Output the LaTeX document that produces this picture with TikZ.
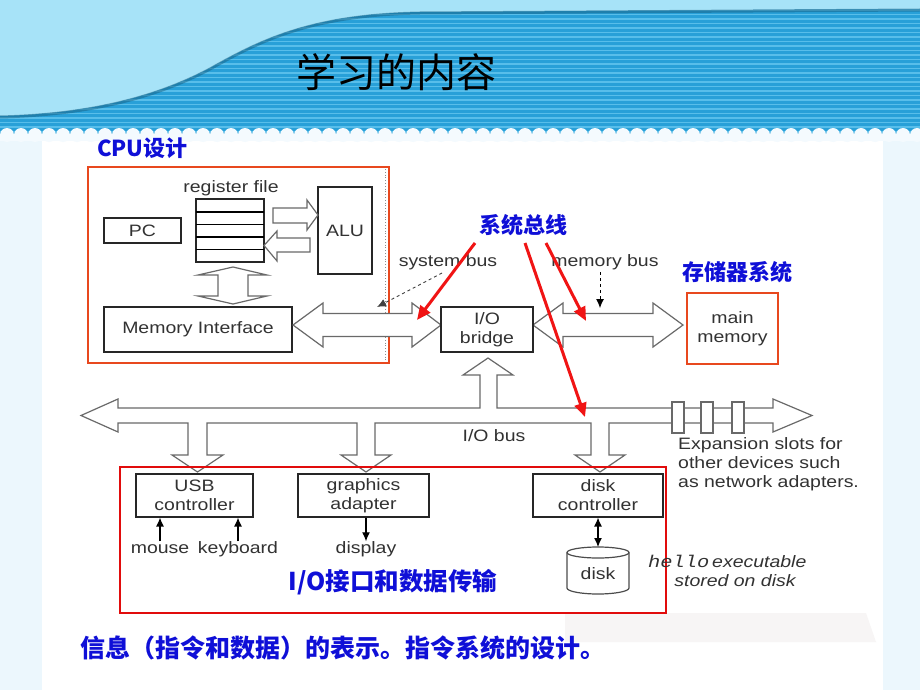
\documentclass[tikz,border=0pt]{standalone}
\usepackage{fontspec}
\setmainfont{Liberation Sans}
\newfontfamily\dg[FakeStretch=1.18]{Liberation Sans}
\newfontfamily\dgmono[FakeStretch=1.2]{Liberation Mono}
\newfontfamily\cjk{Noto Sans CJK SC}
\usetikzlibrary{arrows.meta}
\definecolor{bannerlight}{RGB}{167,227,248}
\definecolor{stripeA}{RGB}{40,160,216}
\definecolor{stripeB}{RGB}{88,190,234}
\definecolor{pale}{RGB}{236,247,253}
\definecolor{kblue}{RGB}{15,15,215}
\definecolor{ored}{RGB}{232,72,30}
\definecolor{pred}{RGB}{225,12,12}
\definecolor{arrred}{RGB}{240,20,20}
\definecolor{txt}{RGB}{50,50,50}
\definecolor{busgray}{RGB}{105,105,105}
\definecolor{shadowc}{RGB}{247,245,245}
\begin{document}
\begin{tikzpicture}[x=1pt,y=-1pt,
  box/.style={draw=black!85, line width=1.1pt, fill=white, inner sep=0pt,
    font=\dg\fontsize{16.5}{19}\selectfont, text=txt, align=center},
  redbox/.style={draw=ored, line width=2.5pt, inner sep=0pt},
  bus/.style={draw=busgray, line width=1.2pt, fill=white, line join=miter},
  lab/.style={inner sep=0pt, font=\dg\fontsize{16.5}{19}\selectfont, text=txt,
    text height=11.5, text depth=3.5},
  cjklab/.style={inner sep=0pt, font=\cjk\bfseries\fontsize{22}{24}\selectfont, text=kblue},
  smallarr/.style={line width=1.2pt, draw=black, -{Latex[length=9pt,width=8pt]}},
  redarr/.style={draw=arrred, line width=3pt, -{Triangle[length=14pt,width=12pt]}},
  ptr/.style={dashed, line width=0.9pt, draw=black!75, -{Latex[length=9pt,width=8pt]}}
]
\useasboundingbox (0,0) rectangle (920,690);
% ---------- background ----------
\fill[pale] (0,0) rectangle (920,690);
\fill[white] (42,141) rectangle (883,690);
\fill[shadowc] (565,613) -- (866,613) -- (876,642) -- (565,642) -- cycle;
% banner
\fill[bannerlight] (0,0) rectangle (920,135);
\fill[stripeA] (0,116) .. controls (80,114) and (150,100) .. (210,68)
   .. controls (260,40) and (310,14) .. (420,12) -- (920,9) -- (920,135) -- (0,135) -- cycle;
\begin{scope}
\clip (0,116) .. controls (80,114) and (150,100) .. (210,68)
   .. controls (260,40) and (310,14) .. (420,12) -- (920,9) -- (920,135) -- (0,135) -- cycle;
\foreach \y in {10,14.5,...,135} \draw[stripeB, line width=1.7pt] (0,\y) -- (920,\y);
\end{scope}
\draw[stripeA!55!black, line width=3pt, opacity=0.45] (0,117) .. controls (80,115) and (150,101) .. (210,69)
   .. controls (260,41) and (310,15) .. (420,13) -- (920,10);
\foreach \i in {0,...,66} \fill[pale!60!white] (\i*14+7,135) circle (7);
\fill[pale!60!white] (0,135) rectangle (920,141);
% ---------- title ----------
\node[font=\cjk\fontsize{40}{44}\selectfont, text=black, inner sep=0pt] (title) at (396,72) {学习的内容};
% ---------- CPU ----------
\node[cjklab, anchor=west] (cpulab) at (97,148.5) {CPU设计};
\node[redbox, minimum width=301, minimum height=196] (cpu) at (238.5,265) {};
\draw[black!45, dotted, line width=0.8pt] (385.5,169) -- (385.5,361);
\node[lab] (rflab) at (231,188) {register file};
\node[box, line width=1.5pt, minimum width=68, minimum height=63] (rf) at (230,230.5) {};
\foreach \y in {212,224.5,237,249.5} \draw[black, line width=1.6pt] (196,\y) -- (264,\y);
\node[box, minimum width=77, minimum height=25] (pc) at (142.5,230.5) {PC};
\node[box, minimum width=54, minimum height=87] (alu) at (345,230.5) {ALU};
\node[box, minimum width=188, minimum height=45] (mi) at (198,329.5) {Memory Interface};
\draw[bus] (273,208) -- (307,208) -- (307,200) -- (318,215) -- (307,230) -- (307,223) -- (273,223) -- cycle;
\draw[bus] (310,238) -- (277,238) -- (277,231) -- (264,245.5) -- (277,261) -- (277,252) -- (310,252) -- cycle;
\draw[bus] (233,267) -- (267,275) -- (248,275) -- (248,296) -- (267,296) -- (233,304)
   -- (198,296) -- (218,296) -- (218,275) -- (198,275) -- cycle;
% ---------- system / memory bus ----------
\draw[bus] (293,325) -- (323,303) -- (323,313.5) -- (412,313.5) -- (412,303) -- (441,325)
   -- (412,347) -- (412,336.5) -- (323,336.5) -- (323,347) -- cycle;
\draw[bus] (533,325) -- (563,303) -- (563,313.5) -- (653,313.5) -- (653,303) -- (683,325)
   -- (653,347) -- (653,336.5) -- (563,336.5) -- (563,347) -- cycle;
\node[box, minimum width=92, minimum height=45] (bridge) at (487,329.5) {I/O\\bridge};
\node[box, draw=ored, line width=2.5pt, minimum width=91, minimum height=71] (mem) at (732.5,328.5) {main\\memory};
\node[cjklab] (memlab) at (737,272) {存储器系统};
\node[lab] (sbl) at (448,262) {system bus};
\node[lab] (mbl) at (605,262) {memory bus};
\coordinate (sbs) at (442,273);
\coordinate (sbp) at (377,307);
\draw[ptr] (sbs) -- (sbp);
\coordinate (mbs) at (600,272);
\coordinate (mbp) at (600,308);
\draw[ptr, draw=black] (mbs) -- (mbp);
% ---------- I/O bus ----------
\draw[bus] (81,415.5) -- (118,399) -- (118,408) -- (480,408) -- (480,375) -- (463,375) -- (488,358)
  -- (513,375) -- (497,375) -- (497,408) -- (773,408) -- (773,399) -- (812,415.5) -- (773,432)
  -- (773,423) -- (609,423) -- (609,455) -- (625,455) -- (600,472) -- (575,455) -- (591,455)
  -- (591,423) -- (375,423) -- (375,455) -- (391,455) -- (366,472) -- (341,455) -- (357,455)
  -- (357,423) -- (207,423) -- (207,455) -- (223,455) -- (197.5,472) -- (172,455) -- (188,455)
  -- (188,423) -- (118,423) -- (118,432) -- cycle;
\foreach \x in {672,701,732} \draw[bus] (\x,402) rectangle ++(12,31);
\node[lab] (iobl) at (494,437) {I/O bus};
\node[lab, anchor=west] (exp1) at (678,445) {Expansion slots for};
\node[lab, anchor=west] (exp2) at (678,464) {other devices such};
\node[lab, anchor=west] (exp3) at (678,483) {as network adapters.};
% ---------- I/O devices ----------
\node[draw=pred, line width=2.5pt, inner sep=0pt, minimum width=546, minimum height=146] (iobox) at (393,540) {};
\node[box, minimum width=117, minimum height=43] (usb) at (194.5,495.5) {USB\\controller};
\node[box, minimum width=131, minimum height=43] (gfx) at (363.5,495.5) {graphics\\adapter};
\node[box, minimum width=130, minimum height=43] (dc) at (598,495.5) {disk\\controller};
\node[lab] (mouse) at (160,549) {mouse};
\node[lab] (kbd) at (238,549) {keyboard};
\node[lab] (disp) at (366,549) {display};
\draw[smallarr] (mouse.north) -- (mouse.north |- usb.south);
\draw[smallarr] (kbd.north) -- (kbd.north |- usb.south);
\draw[smallarr] (disp.north |- gfx.south) -- (disp.north);
% disk cylinder
\draw[draw=black!70, line width=1.2pt, fill=white] (567,552.5) -- (567,588) arc[start angle=180, end angle=0, x radius=31, y radius=6] -- (629,552.5);
\draw[draw=black!70, line width=1.2pt, fill=white] (598,552.5) ellipse [x radius=31, y radius=5.5];
\coordinate (disktop) at (598,547);
\node[lab] (disk) at (598,575) {disk};
\draw[line width=1.2pt, {Latex[length=9pt,width=8pt]}-{Latex[length=9pt,width=8pt]}] (dc.south) -- (disktop);
\node[inner sep=0pt, anchor=west, text=txt, text height=11.5, text depth=3.5] (hello1) at (648,563)
  {{\dgmono\itshape\fontsize{17}{19}\selectfont hello} {\dg\itshape\fontsize{16.5}{19}\selectfont executable}};
\node[inner sep=0pt, text=txt, font=\dg\itshape\fontsize{16.5}{19}\selectfont, text height=11.5, text depth=3.5] (hello2) at (735,582) {stored on disk};
\node[cjklab, font=\cjk\bfseries\fontsize{24.5}{27}\selectfont] (iolab) at (393,582) {I/O接口和数据传输};
% ---------- red pointer arrows ----------
\node[cjklab] (buslab) at (523,225) {系统总线};
\coordinate (r1s) at (475,243); \coordinate (r1e) at (417,320);
\coordinate (r2s) at (525,243); \coordinate (r2e) at (585,417);
\coordinate (r3s) at (546,243); \coordinate (r3e) at (586,321);
\draw[redarr] (r1s) -- (r1e);
\draw[redarr] (r2s) -- (r2e);
\draw[redarr] (r3s) -- (r3e);
% ---------- bottom line ----------
\node[cjklab, anchor=west, font=\cjk\bfseries\fontsize{25}{28}\selectfont] (bottom) at (80,648) {信息（指令和数据）的表示。指令系统的设计。};
\end{tikzpicture}
\end{document}
